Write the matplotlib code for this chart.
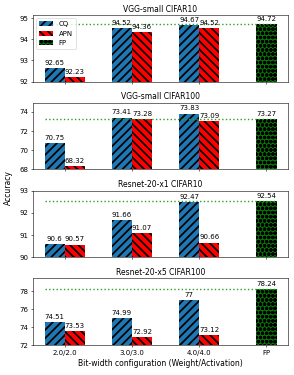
import matplotlib
matplotlib.use("Agg")
import matplotlib.pyplot as plt
import numpy as np

configs = ['2.0/2.0', '3.0/3.0', '4.0/4.0', 'FP']
titles = ['VGG-small CIFAR10', 'VGG-small CIFAR100',
          'Resnet-20-x1 CIFAR10', 'Resnet-20-x5 CIFAR100']
cq = [[92.65, 94.52, 94.67],
      [70.75, 73.41, 73.83],
      [90.6, 91.66, 92.47],
      [74.51, 74.99, 77]]
apn = [[92.23, 94.36, 94.52],
       [68.32, 73.28, 73.09],
       [90.57, 91.07, 90.66],
       [73.53, 72.92, 73.12]]
fp = [94.72, 73.27, 92.54, 78.24]
ylims = [(92, 95.15), (68, 74.95), (90, 93), (72, 79.4)]
yticks = [[92, 93, 94, 95], [68, 70, 72, 74], [90, 91, 92, 93], [72, 74, 76, 78]]

plt.rcParams['font.size'] = 10
plt.rcParams['hatch.linewidth'] = 2.5

fig, axes = plt.subplots(4, 1, figsize=(5.88, 7.5), dpi=50)
w = 0.3
x = np.arange(3)
for k, ax in enumerate(axes):
    b1 = ax.bar(x - w/2, cq[k], w, color='tab:blue', edgecolor='black', hatch='//', linewidth=0, label='CQ')
    b2 = ax.bar(x + w/2, apn[k], w, color='red', edgecolor='black', hatch='\\\\', linewidth=0, label='APN')
    b3 = ax.bar([3], [fp[k]], w, color='green', edgecolor='black', hatch='oo', linewidth=0, label='FP')
    ax.hlines(fp[k], -0.3, 3.15, colors='tab:green', linestyles=':', linewidth=2)
    for bars, vals in ((b1, cq[k]), (b2, apn[k]), (b3, [fp[k]])):
        for b, v in zip(bars, vals):
            ax.annotate(str(v), (b.get_x() + b.get_width()/2, v), xytext=(0, 3),
                        textcoords='offset points', ha='center', va='bottom', fontsize=10)
    ax.set_ylim(*ylims[k])
    ax.set_yticks(yticks[k])
    ax.set_title(titles[k], fontsize=11, pad=5)
    ax.set_xticks(range(4))
    if k == 3:
        ax.set_xticklabels(configs)
    else:
        ax.set_xticklabels([])
    if k == 0:
        ax.legend(loc='upper left', fontsize=10)

axes[3].set_xlabel('Bit-width configuration (Weight/Activation)', fontsize=11)
fig.text(0.015, 0.5, 'Accuracy', rotation=90, va='center', ha='left', fontsize=11)
fig.subplots_adjust(left=0.112, right=0.98, top=0.96, bottom=0.08, hspace=0.32)
fig.savefig('out.png', dpi=50)
